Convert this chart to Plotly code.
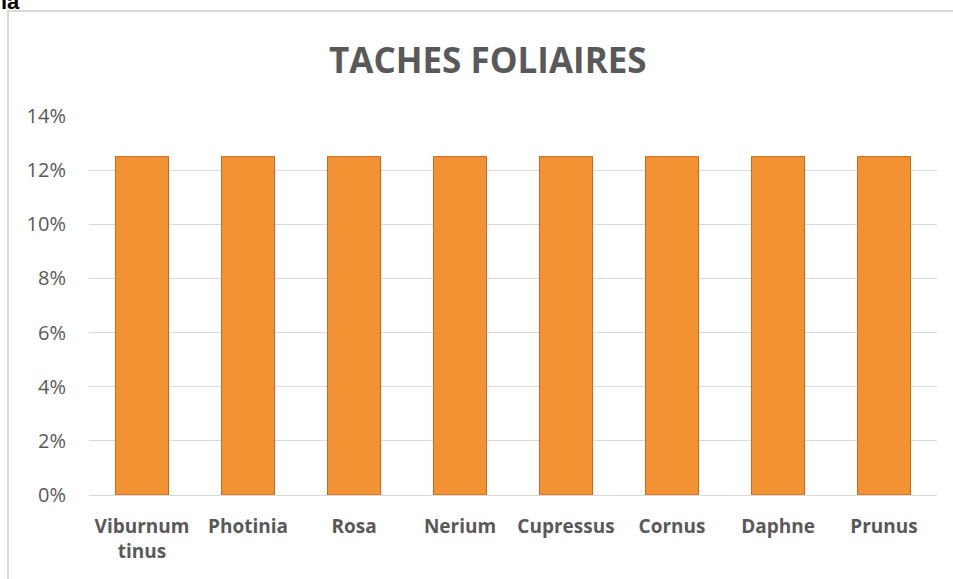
import plotly.graph_objects as go

categories = ["Viburnum<br>tinus", "Photinia", "Rosa", "Nerium", "Cupressus", "Cornus", "Daphne", "Prunus"]
values = [0.125, 0.125, 0.125, 0.125, 0.125, 0.125, 0.125, 0.125]
y_ticks = [0, 0.02, 0.04, 0.06, 0.08, 0.10, 0.12, 0.14]
y_ticktext = ["0%", "2%", "4%", "6%", "8%", "10%", "12%", "14%"]
title_text = "TACHES FOLIAIRES"

W, H = 953, 579
L, R, T, B = 89, 16, 116, 84
pw, ph = W - L - R, H - T - B

def px(x):
    return (x - L) / pw

def py(y):
    return (H - B - y) / ph

FONT = "'Open Sans', Lato, sans-serif"
GRAY = "#595959"

fig = go.Figure()
fig.add_trace(go.Bar(
    x=categories, y=values,
    marker=dict(color="#F39232", line=dict(color="#C8691E", width=1)),
    hoverinfo="skip",
))

fig.update_layout(
    width=W, height=H,
    margin=dict(l=L, r=R, t=T, b=B),
    paper_bgcolor="white", plot_bgcolor="white",
    bargap=0.5,
    showlegend=False,
    font=dict(family=FONT, color=GRAY),
    xaxis=dict(
        showgrid=False, showline=True, linecolor="#D9D9D9", linewidth=1,
        ticks="", tickfont=dict(size=19, color=GRAY, family=FONT, weight="bold"),
        ticklabelstandoff=14,
    ),
    yaxis=dict(
        range=[0, 0.14], tickvals=y_ticks, ticktext=y_ticktext,
        showgrid=True, gridcolor="#D9D9D9", gridwidth=1,
        zeroline=False, showline=False, ticks="",
        tickfont=dict(size=20, color=GRAY, family=FONT),
        ticklabelstandoff=22,
    ),
    shapes=[
        dict(type="rect", xref="paper", yref="paper",
             x0=px(8), x1=px(990), y0=py(600), y1=py(11),
             line=dict(color="#D9D9D9", width=2), fillcolor="rgba(0,0,0,0)", layer="below"),
    ],
    annotations=[
        dict(text=title_text, xref="paper", yref="paper", x=px(488), y=py(60),
             xanchor="center", yanchor="middle", showarrow=False,
             font=dict(size=35, color=GRAY, family=FONT, weight="bold")),
        dict(text="la", xref="paper", yref="paper", x=px(-1), y=py(16),
             xanchor="left", yanchor="bottom", showarrow=False,
             font=dict(size=22, color="black", family="'Liberation Sans', sans-serif", weight="bold")),
    ],
)

fig.write_html("out.html", config={"displayModeBar": False},
               post_script="document.body.style.margin='0';")
